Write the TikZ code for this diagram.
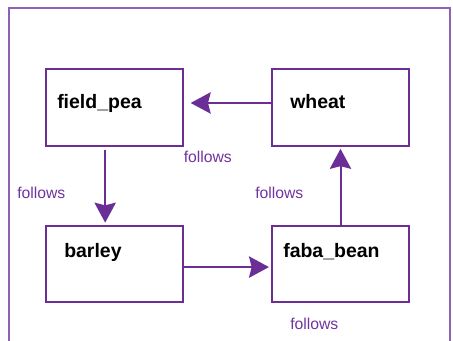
\documentclass[tikz,border=0pt]{standalone}
\usepackage{fontspec}
\setmainfont{Liberation Sans}
\usetikzlibrary{positioning, arrows.meta}
\definecolor{croppurple}{RGB}{106,46,150}
\definecolor{framepurple}{RGB}{142,96,182}
\definecolor{labpurple}{RGB}{112,52,158}

\begin{document}
\begin{tikzpicture}[
    x=0.75pt, y=-0.75pt,
    crop/.style={rectangle, draw=croppurple, line width=1.5pt, fill=white, minimum width=102.75pt, minimum height=57.5pt, inner sep=0pt},
    cname/.style={anchor=base west, inner sep=0pt, font=\fontsize{14.6}{16}\selectfont\bfseries},
    rel/.style={anchor=base west, inner sep=0pt, text=labpurple, font=\fontsize{11.8}{14}\selectfont},
    arr/.style={-{Stealth[length=15pt, width=16pt, inset=2pt]}, line width=1.5pt, draw=croppurple}
]
    \useasboundingbox (0,0) rectangle (453,340);
    \draw[framepurple, line width=1pt] (9,345) -- (9,8) -- (450,8) -- (450,345);

    \node[crop] (fieldpea) at (114.5,107.5) {};
    \node[crop] (wheat) at (340.5,107.5) {};
    \node[crop] (barley) at (114.5,264) {};
    \node[crop] (fababean) at (340.5,264) {};

    \node[cname] (fieldpea-t) at (57,108) {field\_pea};
    \node[cname] (wheat-t) at (290,108) {wheat};
    \node[cname] (barley-t) at (64,257) {barley};
    \node[cname] (fababean-t) at (283,257) {faba\_bean};

    \draw[arr, shorten >=5pt] ([yshift=3.4pt]wheat.west) -- ([yshift=3.4pt]fieldpea.east);
    \draw[arr, shorten <=2pt, shorten >=1.5pt] ([xshift=-7pt]fieldpea.south) -- ([xshift=-7pt]barley.north);
    \draw[arr, shorten >=1.5pt] ([yshift=-2.3pt]barley.east) -- ([yshift=-2.3pt]fababean.west);
    \draw[arr, shorten >=1.5pt] (fababean.north) -- (wheat.south);

    \node[rel] (follows-a) at (183.5,162) {follows};
    \node[rel] (follows-b) at (17,198) {follows};
    \node[rel] (follows-c) at (255,198) {follows};
    \node[rel] (follows-d) at (290,329) {follows};
\end{tikzpicture}
\end{document}
